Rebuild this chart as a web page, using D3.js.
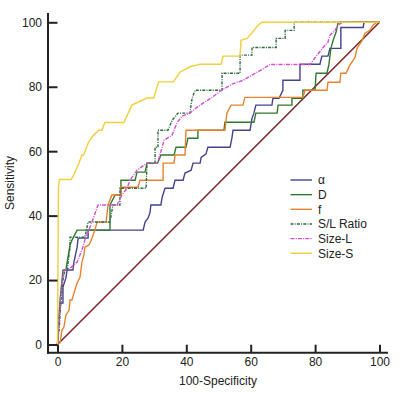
<!DOCTYPE html>
<html><head><meta charset="utf-8">
<script src="https://cdn.jsdelivr.net/npm/d3@7"></script>
<style>
html,body{margin:0;padding:0;background:#fff;}
svg{display:block;font-family:"Liberation Sans",Arial,sans-serif;}
</style></head>
<body><svg id="c" width="400" height="393"></svg>
<script>
// ROC curves: [100-Specificity, Sensitivity]
const alphaPts = [[0,0],[0.2,4.5],[0.5,7.6],[0.8,12.9],[1.7,12.9],[1.7,17.8],[2.6,20.6],[3.0,23.1],[4.8,23.1],[5.1,25.6],[6.1,30.2],[6.4,33.0],[9.5,33.0],[9.5,35.5],[26.6,35.5],[27.2,38.0],[28.1,39.2],[28.7,40.8],[29.0,43.3],[32.1,43.3],[32.5,45.7],[33.4,48.5],[35.9,48.5],[36.5,51.0],[39.0,51.0],[39.6,53.2],[41.5,54.1],[42.1,56.3],[44.3,56.3],[44.6,58.1],[46.1,59.1],[46.7,61.2],[53.6,61.2],[54.2,64.3],[54.5,66.5],[59.8,66.5],[60.4,70.2],[61.0,71.8],[61.6,74.3],[66.6,74.3],[66.9,76.4],[68.8,76.4],[70.0,78.9],[70.0,82.0],[75.3,82.0],[75.3,87.0],[81.5,87.0],[82.1,89.5],[84.0,89.5],[84.6,91.9],[88.0,91.9],[88.0,98.4],[94.9,98.4],[95.2,100],[100,100]];
const dPts = [[0,0],[0.2,4.5],[0.8,13.8],[1.7,23.1],[2.6,23.1],[3.0,25.6],[3.9,30.9],[4.5,32.4],[6.1,35.5],[16.3,35.5],[16.3,43.3],[17.9,46.4],[19.7,46.4],[19.7,51.0],[24.1,51.0],[24.7,53.5],[27.2,53.5],[27.8,56.3],[31.1,56.3],[32.1,58.8],[36.2,58.8],[36.8,61.2],[39.9,61.2],[40.5,64.0],[43.6,64.0],[43.6,66.5],[51.7,66.5],[52.0,69.0],[61.0,69.0],[61.6,71.8],[68.2,71.8],[68.5,74.3],[72.8,74.3],[72.8,76.4],[76.2,76.4],[76.2,78.9],[80.0,78.9],[80.3,84.2],[83.7,84.2],[84.3,87.0],[84.9,91.9],[85.6,94.4],[86.5,96.9],[87.1,99.7],[87.5,100],[100,100]];
const fPts = [[0,0],[0.2,0.2],[0.8,0.5],[1.4,4.5],[2.0,5.4],[2.6,9.1],[3.6,10.7],[3.9,13.8],[4.5,13.8],[5.4,16.9],[6.1,19.1],[7.0,20.9],[7.6,25.6],[8.2,27.8],[8.5,30.2],[9.8,30.9],[10.7,33.0],[11.6,35.5],[12.3,38.0],[15.1,38.0],[15.7,43.3],[16.9,46.4],[19.7,46.4],[19.7,48.8],[25.0,48.8],[25.6,51.0],[32.8,51.0],[32.8,56.3],[36.2,56.3],[36.5,58.8],[39.6,58.8],[39.9,66.5],[52.0,66.5],[52.6,71.8],[53.9,74.3],[57.6,74.3],[58.2,76.7],[76.2,76.7],[76.9,78.9],[83.7,78.9],[84.0,81.4],[87.7,81.4],[88.0,84.2],[89.6,84.2],[90.8,86.7],[92.4,89.1],[93.0,91.9],[94.6,94.4],[95.5,96.6],[97.0,97.5],[98.0,99.1],[99.2,100],[100,100]];
const slPts = [[0,0],[0.5,4.5],[1.1,13.8],[1.7,20.0],[2.3,23.1],[3.0,23.1],[3.9,30.2],[3.9,33.3],[8.5,33.3],[9.5,38.0],[16.3,38.0],[17.2,43.3],[19.4,43.3],[19.4,48.5],[27.5,48.5],[27.8,56.3],[30.3,56.3],[30.3,61.2],[31.2,61.2],[31.2,66.5],[34.3,66.5],[35.6,69.6],[37.4,71.8],[41.1,71.8],[41.8,76.4],[42.7,78.9],[51.1,78.9],[51.1,84.2],[56.7,84.2],[56.7,89.8],[60.4,89.8],[60.4,92.2],[67.9,92.2],[67.9,95.0],[70.7,95.0],[70.7,97.5],[73.5,97.5],[73.5,100],[100,100]];
const sizeLPts = [[0,0],[0.5,7.6],[1.1,16.9],[2.0,23.1],[3.9,23.7],[6.1,25.6],[7.6,29.3],[8.5,32.4],[10.7,38.0],[12.6,43.3],[18.5,43.3],[20.0,46.4],[21.6,48.5],[22.5,51.0],[24.7,54.1],[27.8,56.3],[31.1,56.3],[33.1,63.4],[35.6,65.0],[37.1,68.8],[38.7,70.9],[41.1,71.8],[43.3,73.6],[45.2,74.9],[48.0,76.7],[50.5,78.6],[54.2,80.8],[57.6,82.0],[62.9,85.0],[66.0,86.9],[78.4,86.9],[80.6,89.8],[82.5,92.2],[84.0,93.8],[84.6,96.0],[86.2,97.5],[87.1,99.1],[88.4,100],[100,100]];
const sizeSPts = [[0,0],[0.3,49.0],[0.6,51.2],[4.3,51.2],[5.5,53.6],[6.6,56.2],[7.6,58.8],[8.1,58.8],[9.7,62.9],[10.7,64.4],[12.8,66.5],[13.8,66.5],[14.7,68.9],[20.6,68.9],[23.1,74.3],[27.8,76.5],[29.9,76.5],[31.4,81.5],[36.0,81.5],[38.0,84.5],[41.1,86.2],[44.3,87.0],[50.8,87.0],[51.4,89.5],[56.7,89.5],[57.0,94.4],[58.9,95.0],[62.3,99.1],[63.5,100],[100,100]];
const refLine = [[0,0],[100,100]];

const seriesNames = ["α","D","f","S/L Ratio","Size-L","Size-S"];
const seriesColors = ["#43438f","#2f7a2f","#e8822e","#2d6a3a","#d24fd2","#f0cf3a"];
const seriesDash = [null,null,null,"3,1.2,1,1.2","4,1.2,1,1.2",null];
const tickVals = [0,20,40,60,80,100];
const xTitle = "100-Specificity";
const yTitle = "Sensitivity";

const allSeries = [alphaPts,dPts,fPts,slPts,sizeLPts,sizeSPts];

const svg = d3.select("#c");
const x = d3.scaleLinear().domain([0,100]).range([57.5,379.5]);
const y = d3.scaleLinear().domain([0,100]).range([344.5,22.3]);
const line = d3.line().x(d=>x(d[0])).y(d=>y(d[1]));

// reference diagonal
svg.append("path").attr("d",line(refLine)).attr("fill","none")
  .attr("stroke","#7a2222").attr("stroke-width",1.5);

allSeries.forEach((pts,i)=>{
  svg.append("path").attr("d",line(pts)).attr("fill","none")
    .attr("stroke",seriesColors[i]).attr("stroke-width",1.4)
    .attr("stroke-dasharray",seriesDash[i]);
});

// axes
const axX = 48, axY = 352.7;
const gy = svg.append("g").attr("transform",`translate(${axX},0)`)
  .call(d3.axisLeft(y).tickValues(tickVals).tickSizeInner(-9.5).tickSizeOuter(0).tickPadding(6));
const gx = svg.append("g").attr("transform",`translate(0,${axY})`)
  .call(d3.axisBottom(x).tickValues(tickVals).tickSizeInner(-8).tickSizeOuter(0).tickPadding(6));
[gx,gy].forEach(g=>{
  g.select(".domain").remove();
  g.selectAll(".tick line").attr("stroke","#222").attr("stroke-width",2);
  g.selectAll(".tick text").attr("fill","#222").style("font-size","12px")
    .style("font-family","'Liberation Sans',Arial,sans-serif");
});
gx.selectAll(".tick text").attr("dy","0.9em").attr("y",3);
svg.append("line").attr("x1",axX).attr("x2",axX).attr("y1",13).attr("y2",axY+1)
  .attr("stroke","#222").attr("stroke-width",2);
svg.append("line").attr("x1",axX-1).attr("x2",388).attr("y1",axY).attr("y2",axY)
  .attr("stroke","#222").attr("stroke-width",2);

svg.append("text").attr("x",218).attr("y",385).attr("text-anchor","middle")
  .style("font-size","12px").attr("fill","#222").text(xTitle);
svg.append("text").attr("transform","translate(14,183) rotate(-90)").attr("text-anchor","middle")
  .style("font-size","12px").attr("fill","#222").text(yTitle);

// legend
const lg = svg.append("g");
seriesNames.forEach((n,i)=>{
  const yy = 180 + i*14.65;
  lg.append("line").attr("x1",290.5).attr("x2",312).attr("y1",yy).attr("y2",yy)
    .attr("stroke",seriesColors[i]).attr("stroke-width",1.4)
    .attr("stroke-dasharray",seriesDash[i]);
  lg.append("text").attr("x",318).attr("y",yy+4.3).style("font-size","12px")
    .attr("fill","#222").text(n);
});
</script></body></html>
